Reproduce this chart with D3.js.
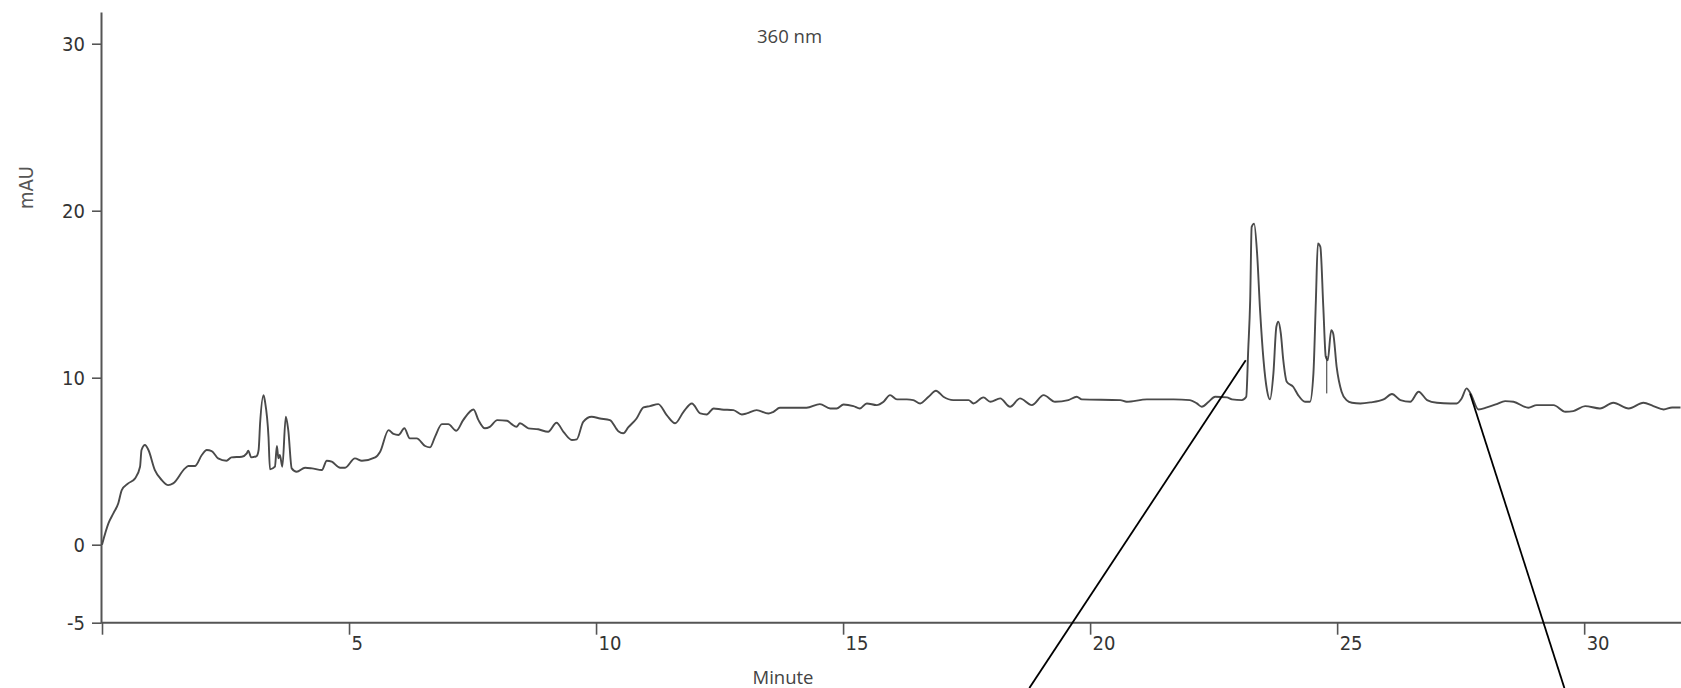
<!DOCTYPE html>
<html>
<head>
<meta charset="utf-8">
<script src="https://cdn.jsdelivr.net/npm/d3@7"></script>
<style>
  html, body { margin: 0; padding: 0; background: #fff; }
  svg { display: block; }
  .tick text { font-family: "Liberation Sans Narrow", "DejaVu Sans Condensed", "Arial Narrow", sans-serif; font-size: 20px; fill: #333; }
</style>
</head>
<body>
<svg id="chart" width="1681" height="688"></svg>
<script>
// ---- data ----
const minutes = [0.00,0.13,0.23,0.33,0.40,0.53,0.67,0.77,0.80,0.87,0.94,1.07,1.21,1.34,1.44,1.68,1.75,1.88,2.02,2.12,2.22,2.35,2.52,2.62,2.83,2.93,2.96,3.02,3.13,3.17,3.20,3.27,3.30,3.37,3.40,3.50,3.54,3.57,3.60,3.65,3.72,3.77,3.84,3.94,4.11,4.25,4.45,4.55,4.65,4.82,4.92,5.12,5.26,5.53,5.63,5.80,5.90,6.00,6.12,6.23,6.37,6.54,6.64,6.74,6.88,7.01,7.17,7.31,7.52,7.62,7.75,7.85,8.00,8.20,8.29,8.39,8.46,8.63,8.83,9.03,9.20,9.34,9.51,9.61,9.74,9.91,10.08,10.28,10.45,10.55,10.65,10.82,10.96,11.09,11.26,11.43,11.60,11.77,11.94,12.11,12.24,12.38,12.54,12.78,12.95,13.05,13.25,13.49,13.59,13.72,14.26,14.53,14.74,14.87,15.01,15.21,15.34,15.48,15.68,15.82,15.95,16.09,16.29,16.42,16.56,16.73,16.88,17.03,17.23,17.54,17.64,17.84,17.98,18.18,18.38,18.58,18.82,19.06,19.29,19.56,19.73,19.83,20.61,20.74,21.15,21.69,22.02,22.16,22.26,22.40,22.53,22.77,22.87,23.07,23.16,23.20,23.24,23.27,23.32,23.38,23.44,23.51,23.58,23.64,23.71,23.77,23.81,23.86,23.91,23.98,24.11,24.21,24.35,24.45,24.52,24.57,24.61,24.66,24.72,24.77,24.81,24.88,24.92,24.99,25.09,25.19,25.30,25.47,25.67,25.94,26.11,26.28,26.48,26.65,26.82,27.02,27.29,27.42,27.52,27.62,27.70,27.86,28.03,28.23,28.40,28.57,28.87,29.04,29.38,29.62,29.78,30.02,30.32,30.59,30.90,31.20,31.40,31.61,31.78,31.95];
const mAU = [0.00,1.28,1.88,2.48,3.27,3.67,3.97,4.67,5.67,5.97,5.67,4.47,3.87,3.57,3.67,4.57,4.71,4.71,5.37,5.67,5.61,5.17,5.03,5.23,5.27,5.47,5.63,5.23,5.31,5.67,7.27,8.96,8.56,6.46,4.51,4.67,5.91,5.17,5.37,4.67,7.66,6.86,4.57,4.37,4.61,4.57,4.47,5.03,4.97,4.61,4.61,5.17,5.03,5.23,5.57,6.86,6.63,6.57,6.97,6.37,6.37,5.91,5.83,6.46,7.22,7.22,6.82,7.46,8.10,7.46,6.97,7.06,7.46,7.42,7.22,7.06,7.27,6.97,6.91,6.76,7.30,6.76,6.27,6.31,7.36,7.66,7.56,7.46,6.80,6.67,7.02,7.56,8.22,8.30,8.42,7.76,7.27,7.96,8.46,7.86,7.80,8.16,8.10,8.06,7.80,7.86,8.06,7.86,7.96,8.20,8.20,8.42,8.16,8.16,8.40,8.30,8.16,8.46,8.36,8.56,8.96,8.70,8.70,8.66,8.46,8.86,9.22,8.86,8.66,8.66,8.46,8.82,8.56,8.76,8.26,8.76,8.36,8.96,8.56,8.66,8.86,8.70,8.66,8.56,8.70,8.70,8.66,8.46,8.26,8.56,8.86,8.82,8.70,8.66,8.86,11.65,14.64,19.03,19.23,17.44,14.05,11.05,9.26,8.70,10.26,13.05,13.35,12.65,11.05,9.76,9.46,8.96,8.56,8.56,10.26,14.64,18.04,17.84,14.24,11.25,11.05,12.85,12.65,10.65,9.16,8.66,8.50,8.46,8.52,8.70,9.02,8.66,8.56,9.16,8.66,8.50,8.46,8.46,8.76,9.36,9.06,8.10,8.22,8.42,8.60,8.56,8.20,8.36,8.36,7.96,8.00,8.30,8.16,8.50,8.16,8.50,8.30,8.10,8.22,8.22];

// integration marker (vertical tick inside the second peak group)
const markerMinute = [24.79];
const markerTop = [11.3];
const markerBottom = [9.06];

// annotation leader lines [minute, mAU] start -> end
const leaderStartMinute = [23.15, 27.69];
const leaderStartMAU = [11.05, 9.06];
const leaderEndMinute = [18.77, 29.60];
const leaderEndMAU = [-9.19, -9.19];

const xTicks = [0, 5, 10, 15, 20, 25, 30];
const yTicks = [-5, 0, 10, 20, 30];
const titleText = "360 nm";
const xLabel = "Minute";
const yLabel = "mAU";

// ---- scales ----
const svg = d3.select("#chart");
const x = d3.scaleLinear().domain([0, 31.96]).range([102, 1681]);
const y = d3.scaleLinear().domain([-5, 0, 31.9]).range([622.7, 544.7, 12]);

// ---- axes ----
const xAxis = d3.axisBottom(x).tickValues(xTicks)
  .tickFormat(d => d === 0 ? "" : String(d)).tickSizeInner(12).tickSizeOuter(0).tickPadding(0);
const gx = svg.append("g").attr("transform", `translate(0,${y(-5)})`).call(xAxis);
gx.select(".domain").attr("stroke", "#555").attr("stroke-width", 2)
  .attr("d", `M${x(0) - 1},0H1681`);
gx.selectAll(".tick line").attr("stroke", "#555").attr("stroke-width", 1.6);
gx.selectAll(".tick text").attr("text-anchor", "start").attr("x", 2).attr("dy", null).attr("y", 27);

const yAxis = d3.axisLeft(y).tickValues(yTicks).tickFormat(d => String(d))
  .tickSizeInner(9).tickSizeOuter(0).tickPadding(7);
const gy = svg.append("g").attr("transform", `translate(101,0)`).call(yAxis);
gy.select(".domain").attr("stroke", "#555").attr("stroke-width", 2);
gy.selectAll(".tick line").attr("stroke", "#555").attr("stroke-width", 1.6);
gy.selectAll(".tick text").attr("dy", "0.36em");

// ---- trace ----
const pts = minutes.map((t, i) => [t, mAU[i]]);
const line = d3.line().x(d => x(d[0])).y(d => y(d[1])).curve(d3.curveMonotoneX);
svg.append("path").datum(pts)
  .attr("d", line).attr("fill", "none")
  .attr("stroke", "#4a4a4a").attr("stroke-width", 1.9)
  .attr("stroke-linejoin", "round");

// integration marker
svg.selectAll("line.marker").data(markerMinute).enter().append("line")
  .attr("class", "marker")
  .attr("x1", d => x(d)).attr("x2", d => x(d))
  .attr("y1", (d, i) => y(markerTop[i])).attr("y2", (d, i) => y(markerBottom[i]))
  .attr("stroke", "#333").attr("stroke-width", 1);

// leader lines
svg.selectAll("line.leader").data(leaderStartMinute).enter().append("line")
  .attr("class", "leader")
  .attr("x1", d => x(d)).attr("y1", (d, i) => y(leaderStartMAU[i]))
  .attr("x2", (d, i) => x(leaderEndMinute[i])).attr("y2", (d, i) => y(leaderEndMAU[i]))
  .attr("stroke", "#000").attr("stroke-width", 1.8);

// ---- text ----
svg.append("text").attr("x", 757).attr("y", 42.5)
  .attr("font-family", "'Open Sans', sans-serif").attr("font-size", 18.5).attr("fill", "#444")
  .text(titleText);
svg.append("text").attr("x", 783).attr("y", 684).attr("text-anchor", "middle")
  .attr("font-family", "'Open Sans', sans-serif").attr("font-size", 18.5).attr("fill", "#444")
  .text(xLabel);
svg.append("text").attr("transform", "translate(33,187.5) rotate(-90)").attr("text-anchor", "middle")
  .attr("font-family", "'Liberation Sans Narrow', 'DejaVu Sans Condensed', sans-serif")
  .attr("font-size", 20).attr("fill", "#555")
  .text(yLabel);
</script>
</body>
</html>
